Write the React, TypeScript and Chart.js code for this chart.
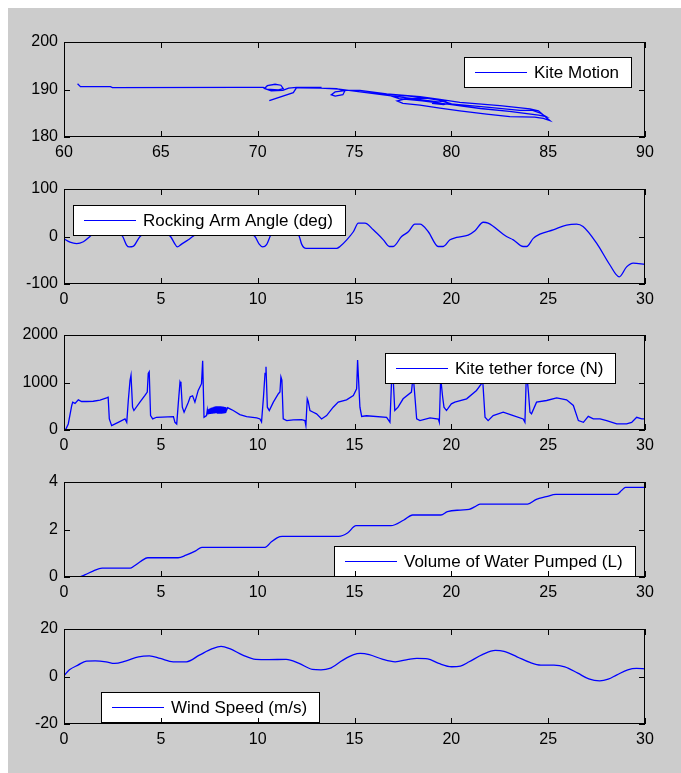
import React, { useEffect, useRef } from 'react';
import { Chart, registerables } from 'chart.js';

Chart.register(...registerables);

const FONT = '"Liberation Sans", Arial, Helvetica, sans-serif';

// ---------- Panel 1: Kite Motion (x-y trace) ----------
const kiteX = [
  60.7, 60.85, 62.4, 62.5, 69.1, 70.29, 70.46, 71.07, 71.32, 71.2,
  70.9, 70.5, 70.35, 70.7, 71.3, 71.6, 72.01, 73.3, 72.2, 73.3,
  74.08, 74.5, 74.4, 74.0, 73.8, 74.0, 74.6, 75.28, 76.66, 78.38,
  79.41, 80.44, 82.51, 84.06, 84.5, 85.09, 84.75, 84.3, 83.02, 81.82,
  80.44, 79.41, 78.38, 77.5, 77.2, 77.7, 78.7, 79.4, 79.9, 79.6,
  79.0, 80.1, 81.82, 83.54, 84.2, 84.6, 84.9, 84.5, 83.0, 81.5,
  80.0, 78.5, 77.3, 77.0, 77.6, 78.5, 79.2, 79.7, 79.3, 78.5,
  77.0, 75.5, 74.2, 73.0, 72.0, 71.84, 70.6,
];
const kiteY = [
  191.2, 190.6, 190.6, 190.4, 190.45, 190.45, 190.1, 189.9, 190.2, 190.9,
  191.1, 190.8, 190.2, 189.7, 189.8, 190.3, 190.45, 190.45, 190.35, 190.3,
  190.2, 189.7, 188.9, 188.6, 188.9, 189.5, 189.8, 189.8, 189.05, 188.5,
  187.9, 187.3, 186.6, 185.9, 185.5, 183.44, 183.9, 184.2, 184.3, 184.8,
  185.5, 186.1, 186.7, 187.1, 187.6, 188.1, 188.2, 187.7, 187.1, 186.8,
  187.1, 186.9, 186.3, 185.6, 185.6, 185.0, 184.3, 184.6, 185.4, 186.0,
  186.8, 187.6, 188.1, 188.5, 188.7, 188.3, 188.0, 187.6, 187.4, 187.8,
  188.6, 189.4, 190.1, 190.35, 190.35, 189.33, 187.65,
];

// ---------- Panel 2: Rocking Arm Angle ----------
const armT = [
  0, 0.31, 0.65, 1.0, 1.34, 1.7, 2.2, 2.7, 3.03, 3.23,
  3.37, 3.57, 3.84, 3.93, 4.3, 4.7, 5.1, 5.5, 5.73, 5.85,
  6.07, 6.42, 6.64, 7.2, 8.2, 9.2, 9.86, 10.08, 10.26, 10.46,
  10.6, 10.67, 11.0, 11.5, 12.0, 12.15, 12.27, 12.5, 14.08, 14.25,
  14.6, 14.94, 15.2, 15.54, 15.97, 16.49, 16.8, 17.0, 17.43, 17.78,
  18.12, 18.38, 18.81, 19.32, 19.58, 19.93, 20.27, 20.87, 21.22, 21.65,
  21.9, 22.85, 23.2, 23.71, 23.89, 24.23, 24.57, 25.26, 25.95, 26.47,
  26.8, 27.5, 28.19, 28.67, 29.05, 29.39, 30,
];
const armDeg = [
  -5, -12, -15, -11, 0, 12, 18, 12, 0, -18,
  -22, -21, -5, 0, 12, 18, 12, 0, -16, -22,
  -16, -7, 0, 14, 20, 14, 0, -16, -22, -17,
  -4, 3, 14, 18, 8, 0, -16, -25, -25, -21,
  -7, 10, 28, 28, 14, -7, -21, -21, 0, 10,
  26, 26, 10, -21, -21, -7, -2, 3, 12, 30,
  28, 0, -7, -21, -21, -4, 5, 14, 24, 26,
  21, -14, -60, -85, -64, -56, -59,
];

// ---------- Panel 3: Kite tether force ----------
const forceT = [
  0, 0.1, 0.22, 0.4, 0.45, 0.57, 0.74, 0.91, 1.17, 1.51,
  1.86, 2.2, 2.28, 2.34, 2.46, 2.8, 3.15, 3.24, 3.32, 3.41,
  3.46, 3.54, 3.61, 3.92, 4.18, 4.3, 4.35, 4.4, 4.47, 4.58,
  4.78, 5.65, 5.73, 5.82, 5.9, 5.99, 6.04, 6.11, 6.2, 6.42,
  6.52, 6.64, 6.76, 6.93, 7.1, 7.16, 7.23, 7.36,
  7.4, 7.425, 7.45, 7.475, 7.5, 7.525, 7.55, 7.575, 7.6, 7.625,
  7.65, 7.675, 7.7, 7.725, 7.75, 7.775, 7.8, 7.825, 7.85, 7.875,
  7.9, 7.925, 7.95, 7.975, 8.0, 8.025, 8.05, 8.075, 8.1, 8.125,
  8.15, 8.175, 8.2, 8.225, 8.25, 8.275, 8.3, 8.325, 8.35, 8.375,
  8.45, 8.57, 8.74, 9.08, 9.43, 9.95, 10.12, 10.2, 10.3, 10.38,
  10.43, 10.5, 10.6, 10.81, 11.07, 11.15, 11.2, 11.25, 11.32, 11.5,
  11.84, 12.27, 12.44, 12.49, 12.56, 12.61, 12.7, 12.87, 13.04, 13.3,
  13.56, 13.9, 14.16, 14.59, 14.94, 15.11, 15.16, 15.28, 15.37, 15.62,
  16.66, 16.83, 16.92, 16.97, 17.08, 17.25, 17.51, 17.94, 18.03, 18.12,
  18.21, 18.38, 18.9, 19.33, 19.38, 19.45, 19.55, 19.62, 19.75, 20.0,
  20.18, 20.79, 21.3, 21.56, 21.62, 21.74, 21.9, 22.16, 22.68, 23.2,
  23.71, 23.8, 23.88, 23.98, 24.06, 24.14, 24.4, 24.92, 25.44, 25.95,
  26.3, 26.56, 26.82, 27.07, 27.33, 27.68, 28.02, 28.54, 29.05, 29.31,
  29.57, 29.83, 30,
];
const forceN = [
  0, 20, 127, 516, 586, 560, 635, 600, 600, 605,
  630, 675, 690, 233, 92, 162, 233, 162, 620, 1048,
  1155, 480, 410, 586, 727, 798, 1190, 1225, 304, 233,
  268, 283, 162, 127, 550, 1014, 960, 480, 374, 586,
  700, 720, 586, 833, 975, 1458, 268, 304,
  420, 330, 435, 335, 445, 338, 455, 340, 465, 342,
  472, 345, 480, 348, 488, 350, 493, 352, 497, 353,
  500, 355, 500, 355, 500, 356, 500, 357, 498, 358,
  496, 360, 494, 362, 490, 365, 485, 370, 480, 400,
  470, 445, 410, 325, 283, 254, 233, 170, 692, 1190,
  1331, 480, 410, 586, 763, 800, 1119, 1050, 233, 198,
  212, 219, 198, 92, 657, 600, 410, 374, 339, 233,
  304, 480, 586, 635, 727, 868, 1472, 480, 286, 300,
  268, 162, 1100, 1300, 410, 480, 657, 798, 1150, 700,
  233, 198, 254, 230, 162, 1100, 700, 480, 410, 550,
  586, 657, 833, 975, 1050, 268, 198, 304, 374, 304,
  233, 162, 1250, 800, 374, 340, 586, 621, 678, 635,
  516, 198, 162, 286, 233, 233, 198, 127, 127, 160,
  268, 233, 235,
];

// ---------- Panel 4: Volume of Water Pumped ----------
const volT = [
  0, 0.84, 1.1, 1.5, 1.97, 3.42, 3.6, 4.0, 4.32, 5.89,
  6.3, 6.8, 7.12, 10.38, 10.71, 11.0, 11.27, 14.19, 14.64, 15.08,
  16.88, 17.55, 18.0, 19.46, 19.8, 20.47, 20.92, 21.2, 21.48, 23.94,
  24.39, 24.9, 25.4, 28.54, 28.8, 28.99, 30,
];
const volL = [
  0.02, 0.02, 0.1, 0.25, 0.37, 0.37, 0.45, 0.68, 0.81, 0.81,
  0.92, 1.1, 1.25, 1.25, 1.48, 1.65, 1.71, 1.71, 1.85, 2.16,
  2.16, 2.4, 2.61, 2.61, 2.75, 2.82, 2.85, 2.95, 3.07, 3.07,
  3.27, 3.38, 3.48, 3.48, 3.65, 3.77, 3.77,
];

// ---------- Panel 5: Wind Speed ----------
const windT = [
  0, 0.28, 0.72, 1.16, 1.61, 2.17, 2.61, 3.17, 3.85, 4.41,
  4.97, 5.64, 6.32, 6.99, 7.66, 8.11, 8.56, 9.23, 9.9, 10.57,
  11.47, 12.14, 12.82, 13.27, 13.72, 14.4, 14.96, 15.3, 15.76, 16.43,
  17.1, 17.78, 18.22, 18.78, 19.35, 20.02, 20.47, 20.92, 21.6, 22.27,
  22.72, 23.39, 24.06, 24.62, 25.3, 25.86, 26.53, 27.1, 27.66, 28.1,
  28.55, 29.11, 29.56, 30,
];
const windMs = [
  0.3, 2.8, 4.8, 6.5, 6.6, 6.2, 5.5, 6.5, 8.3, 8.7,
  7.6, 6.2, 6.2, 9.0, 11.7, 12.7, 11.7, 9.0, 7.2, 7.1,
  7.2, 5.5, 3.0, 2.8, 3.4, 6.9, 9.2, 9.7, 9.2, 7.3,
  6.2, 7.2, 7.6, 7.4, 5.5, 4.1, 4.4, 6.2, 9.2, 11.0,
  10.6, 8.3, 5.9, 4.8, 4.8, 4.1, 1.4, -1.0, -1.8, -1.1,
  0.7, 2.8, 3.4, 3.2,
];

const labels = [
  'Kite Motion',
  'Rocking Arm Angle (deg)',
  'Kite tether force (N)',
  'Volume of Water Pumped (L)',
  'Wind Speed (m/s)',
];

type Panel = {
  xs: number[];
  ys: number[];
  label: string;
  xMin: number; xMax: number; xStep: number;
  yMin: number; yMax: number; yStep: number;
  top: number;
  legendX: number; legendY: number;
  smooth: boolean;
};

const panels: Panel[] = [
  { xs: kiteX, ys: kiteY, label: labels[0], xMin: 60, xMax: 90, xStep: 5, yMin: 180, yMax: 200, yStep: 10, top: 42, legendX: 400, legendY: 15, smooth: false },
  { xs: armT, ys: armDeg, label: labels[1], xMin: 0, xMax: 30, xStep: 5, yMin: -100, yMax: 100, yStep: 100, top: 189, legendX: 9, legendY: 16, smooth: true },
  { xs: forceT, ys: forceN, label: labels[2], xMin: 0, xMax: 30, xStep: 5, yMin: 0, yMax: 2000, yStep: 1000, top: 335, legendX: 321, legendY: 18, smooth: false },
  { xs: volT, ys: volL, label: labels[3], xMin: 0, xMax: 30, xStep: 5, yMin: 0, yMax: 4, yStep: 2, top: 482, legendX: 270, legendY: 64, smooth: true },
  { xs: windT, ys: windMs, label: labels[4], xMin: 0, xMax: 30, xStep: 5, yMin: -20, yMax: 20, yStep: 20, top: 629, legendX: 37, legendY: 63, smooth: true },
];

const CANVAS_W = 681;
const CANVAS_H = 142;
const PAD_TOP = 20;

const framePlugin = {
  id: 'frame',
  afterDatasetsDraw(chart: any, _args: any, opts: any) {
    const { ctx, chartArea: a, scales } = chart;
    ctx.save();
    // legend box
    const label = chart.data.datasets[0].label as string;
    ctx.font = `17px ${FONT}`;
    const tw = ctx.measureText(label).width;
    const lx = Math.round(a.left + opts.legendX);
    const ly = Math.round(a.top + opts.legendY);
    const lw = Math.round(70 + tw + 13);
    const lh = 31;
    ctx.fillStyle = '#ffffff';
    ctx.fillRect(lx, ly, lw, lh);
    ctx.strokeStyle = '#000000';
    ctx.lineWidth = 1;
    ctx.strokeRect(lx + 0.5, ly + 0.5, lw - 1, lh - 1);
    const cy = ly + lh / 2;
    ctx.strokeStyle = '#0000ff';
    ctx.lineWidth = 1.2;
    ctx.beginPath();
    ctx.moveTo(lx + 11, cy);
    ctx.lineTo(lx + 63, cy);
    ctx.stroke();
    ctx.fillStyle = '#000000';
    ctx.textBaseline = 'middle';
    ctx.textAlign = 'left';
    ctx.fillText(label, lx + 70, cy + 1);

    // inward ticks on all four sides
    ctx.strokeStyle = '#000000';
    ctx.lineWidth = 1;
    const TL = 6;
    ctx.beginPath();
    scales.x.ticks.forEach((t: any) => {
      const px = Math.round(scales.x.getPixelForValue(t.value)) + 0.5;
      ctx.moveTo(px, a.bottom);
      ctx.lineTo(px, a.bottom - TL);
      ctx.moveTo(px, a.top);
      ctx.lineTo(px, a.top + TL);
    });
    scales.y.ticks.forEach((t: any) => {
      const py = Math.round(scales.y.getPixelForValue(t.value)) + 0.5;
      ctx.moveTo(a.left, py);
      ctx.lineTo(a.left + TL, py);
      ctx.moveTo(a.right, py);
      ctx.lineTo(a.right - TL, py);
    });
    ctx.stroke();
    // frame
    ctx.strokeRect(Math.round(a.left) + 0.5, Math.round(a.top) + 0.5, Math.round(a.right - a.left) - 1, Math.round(a.bottom - a.top) - 1);
    ctx.restore();
  },
};

function tickOpts(step: number) {
  return {
    stepSize: step,
    color: '#000000',
    font: { family: FONT, size: 16 },
    padding: 6,
    maxRotation: 0,
    autoSkip: false,
    callback: (v: any) => String(v),
  };
}

function PanelChart({ p }: { p: Panel }) {
  const ref = useRef<HTMLCanvasElement | null>(null);
  useEffect(() => {
    if (!ref.current) return;
    const points = p.xs.map((x, i) => ({ x, y: p.ys[i] }));
    const chart = new Chart(ref.current, {
      type: 'scatter',
      data: {
        datasets: [
          {
            label: p.label,
            data: points,
            showLine: true,
            borderColor: '#0000ff',
            backgroundColor: '#0000ff',
            borderWidth: 1.3,
            pointRadius: 0,
            pointHoverRadius: 0,
            fill: false,
            tension: 0,
            cubicInterpolationMode: p.smooth ? 'monotone' : 'default',
          } as any,
        ],
      },
      options: {
        animation: false,
        responsive: false,
        events: [],
        layout: { padding: { left: 4, right: 36, top: PAD_TOP, bottom: 0 } },
        plugins: {
          legend: { display: false },
          tooltip: { enabled: false },
          frame: { legendX: p.legendX, legendY: p.legendY },
        } as any,
        scales: {
          x: {
            type: 'linear',
            min: p.xMin,
            max: p.xMax,
            ticks: tickOpts(p.xStep),
            grid: { display: false, drawTicks: false },
            border: { display: false },
            afterFit: (s: any) => { s.height = 27; },
          },
          y: {
            type: 'linear',
            min: p.yMin,
            max: p.yMax,
            ticks: tickOpts(p.yStep),
            grid: { display: false, drawTicks: false },
            border: { display: false },
            afterFit: (s: any) => { s.width = 60; },
          },
        } as any,
      },
      plugins: [framePlugin as any],
    });
    return () => chart.destroy();
  }, [p]);
  return (
    <canvas
      ref={ref}
      width={CANVAS_W}
      height={CANVAS_H}
      style={{ position: 'absolute', left: 0, top: p.top - PAD_TOP, width: CANVAS_W, height: CANVAS_H }}
    />
  );
}

export default function App() {
  return (
    <div style={{ position: 'fixed', left: 0, top: 0, right: 0, bottom: 0, overflow: 'hidden' }}>
      <div style={{ position: 'absolute', left: 8, top: 8, right: 0, bottom: 0, background: '#cccccc' }} />
      {panels.map((p, i) => (
        <PanelChart key={i} p={p} />
      ))}
    </div>
  );
}
